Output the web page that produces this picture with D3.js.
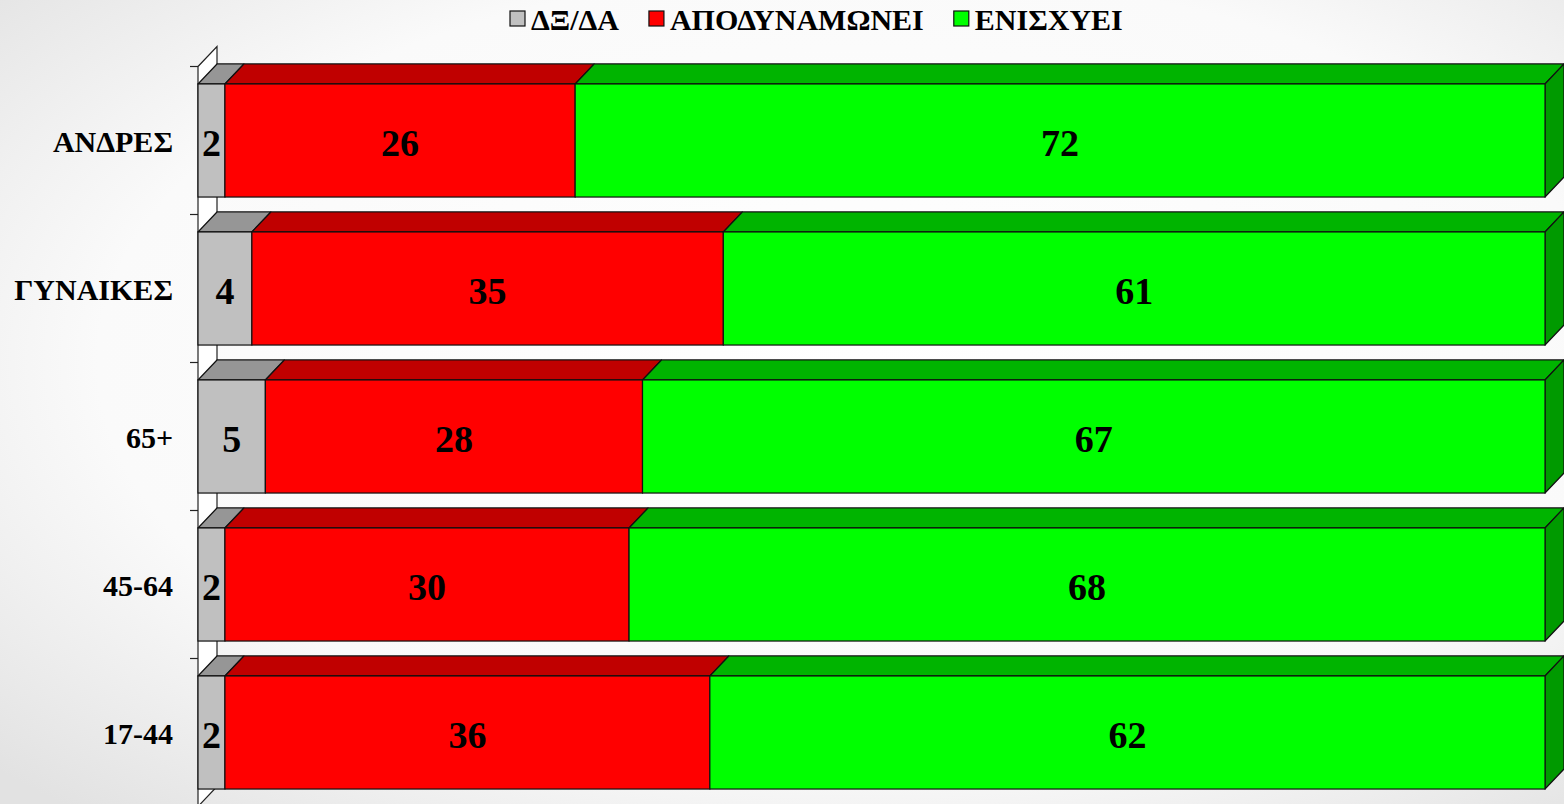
<!DOCTYPE html>
<html>
<head>
<meta charset="utf-8">
<script src="https://cdn.jsdelivr.net/npm/d3@7"></script>
<style>
    html, body { margin: 0; padding: 0; overflow: hidden; }
</style>
</head>
<body>
<svg id="chart"></svg>
<script>
//categories top to bottom
const CATEGORIES = ["ΑΝΔΡΕΣ", "ΓΥΝΑΙΚΕΣ", "65+", "45-64", "17-44"];
const SERIES = ["ΔΞ/ΔΑ", "ΑΠΟΔΥΝΑΜΩΝΕΙ", "ΕΝΙΣΧΥΕΙ"];
const DKNA = [2, 4, 5, 2, 2];
const WEAKENS = [26, 35, 28, 30, 36];
const STRENGTHENS = [72, 61, 67, 68, 62];

// front / top / side colours per series
const COLORS = [
    { front: "#c0c0c0", top: "#969696", side: "#8a8a8a" },
    { front: "#ff0000", top: "#c00000", side: "#a00000" },
    { front: "#00ff00", top: "#00b400", side: "#009a00" }
];

const width = 1564;
const height = 804;
const depthX = 19;
const depthY = 20;
const FONT = "'Liberation Serif', 'Times New Roman', serif";

const svg = d3.select("#chart")
    .attr("width", width)
    .attr("height", height);

// background gradient
const defs = svg.append("defs");
const grad = defs.append("radialGradient")
    .attr("id", "bg")
    .attr("cx", "55%").attr("cy", "45%").attr("r", "75%");
grad.append("stop").attr("offset", "0%").attr("stop-color", "#ffffff");
grad.append("stop").attr("offset", "65%").attr("stop-color", "#fafafa");
grad.append("stop").attr("offset", "100%").attr("stop-color", "#e2e2e2");

svg.append("rect")
    .attr("width", width)
    .attr("height", height)
    .attr("fill", "url(#bg)");

const xScale = d3.scaleLinear()
    .domain([0, 100])
    .range([198, 1545]);

const yScale = d3.scaleBand()
    .domain(CATEGORIES)
    .range([66.5, 806.5])
    .paddingInner(0.236)
    .paddingOuter(0.118);

// stacked data
const rows = CATEGORIES.map((c, i) => ({ cat: c, values: [DKNA[i], WEAKENS[i], STRENGTHENS[i]] }));
const stacked = rows.map(r => {
    let acc = 0;
    return {
        cat: r.cat,
        segs: r.values.map((v, k) => {
            const s = { key: k, v: v, x0: acc, x1: acc + v };
            acc += v;
            return s;
        })
    };
});

//left wall (3d)
const x0 = xScale(0);
const wallTop = yScale.range()[0];
const wallBottom = yScale.range()[1];
svg.append("path")
    .attr("d", `M${x0},${wallTop} L${x0 + depthX},${wallTop - depthY} L${x0 + depthX},${wallBottom - depthY} L${x0},${wallBottom} Z`)
    .attr("fill", "#ffffff")
    .attr("stroke", "#222")
    .attr("stroke-width", 1.2);

// ticks between categories
const tickYs = CATEGORIES.map(c => yScale(c) - yScale.step() * yScale.paddingInner() / 2);
tickYs.push(wallBottom);
svg.selectAll("line.tick")
    .data(tickYs)
    .enter()
    .append("line")
    .attr("class", "tick")
    .attr("x1", x0 - 8)
    .attr("x2", x0)
    .attr("y1", d => d)
    .attr("y2", d => d)
    .attr("stroke", "#222")
    .attr("stroke-width", 1.2);

//bars
const bh = yScale.bandwidth();
const barGroups = svg.selectAll("g.bar")
    .data(stacked)
    .enter()
    .append("g")
    .attr("class", "bar");

barGroups.each(function (d) {
    const g = d3.select(this);
    const y = yScale(d.cat);
    d.segs.forEach(s => {
        const a = xScale(s.x0);
        const b = xScale(s.x1);
        const col = COLORS[s.key];
        // top face
        g.append("path")
            .attr("d", `M${a},${y} L${a + depthX},${y - depthY} L${b + depthX},${y - depthY} L${b},${y} Z`)
            .attr("fill", col.top)
            .attr("stroke", "#111")
            .attr("stroke-width", 1.2)
            .attr("stroke-linejoin", "round");
        // side face (only visible for last one)
        if (s.key === d.segs.length - 1) {
            g.append("path")
                .attr("d", `M${b},${y} L${b + depthX},${y - depthY} L${b + depthX},${y + bh - depthY} L${b},${y + bh} Z`)
                .attr("fill", col.side)
                .attr("stroke", "#111")
                .attr("stroke-width", 1.2)
                .attr("stroke-linejoin", "round");
        }
        // front face
        g.append("rect")
            .attr("x", a)
            .attr("y", y)
            .attr("width", b - a)
            .attr("height", bh)
            .attr("fill", col.front)
            .attr("stroke", "#111")
            .attr("stroke-width", 1.2);
    });

    // value labels
    g.selectAll("text.val")
        .data(d.segs)
        .enter()
        .append("text")
        .attr("class", "val")
        .attr("x", s => (xScale(s.x0) + xScale(s.x1)) / 2)
        .attr("y", y + bh / 2 + 2)
        .attr("text-anchor", "middle")
        .attr("dominant-baseline", "central")
        .style("font-family", FONT)
        .style("font-size", "38px")
        .style("font-weight", "bold")
        .style("fill", "#000")
        .text(s => s.v);
});

// category labels
svg.selectAll("text.cat")
    .data(CATEGORIES)
    .enter()
    .append("text")
    .attr("class", "cat")
    .attr("x", 173)
    .attr("y", d => yScale(d) + bh / 2 + 1)
    .attr("text-anchor", "end")
    .attr("dominant-baseline", "central")
    .style("font-family", FONT)
    .style("font-size", "30px")
    .style("font-weight", "bold")
    .style("fill", "#000")
    .text(d => d);

// legend
const legend = svg.append("g").attr("class", "legend");
let lx = 510;
SERIES.forEach((name, k) => {
    legend.append("rect")
        .attr("x", lx)
        .attr("y", 11)
        .attr("width", 15)
        .attr("height", 15)
        .attr("fill", COLORS[k].front)
        .attr("stroke", "#111")
        .attr("stroke-width", 1.2);
    const t = legend.append("text")
        .attr("x", lx + 21)
        .attr("y", 19)
        .attr("dominant-baseline", "central")
        .style("font-family", FONT)
        .style("font-size", "30px")
        .style("font-weight", "bold")
        .style("fill", "#000")
        .text(name);
    lx += 21 + t.node().getComputedTextLength() + 30;
});
</script>
</body>
</html>
